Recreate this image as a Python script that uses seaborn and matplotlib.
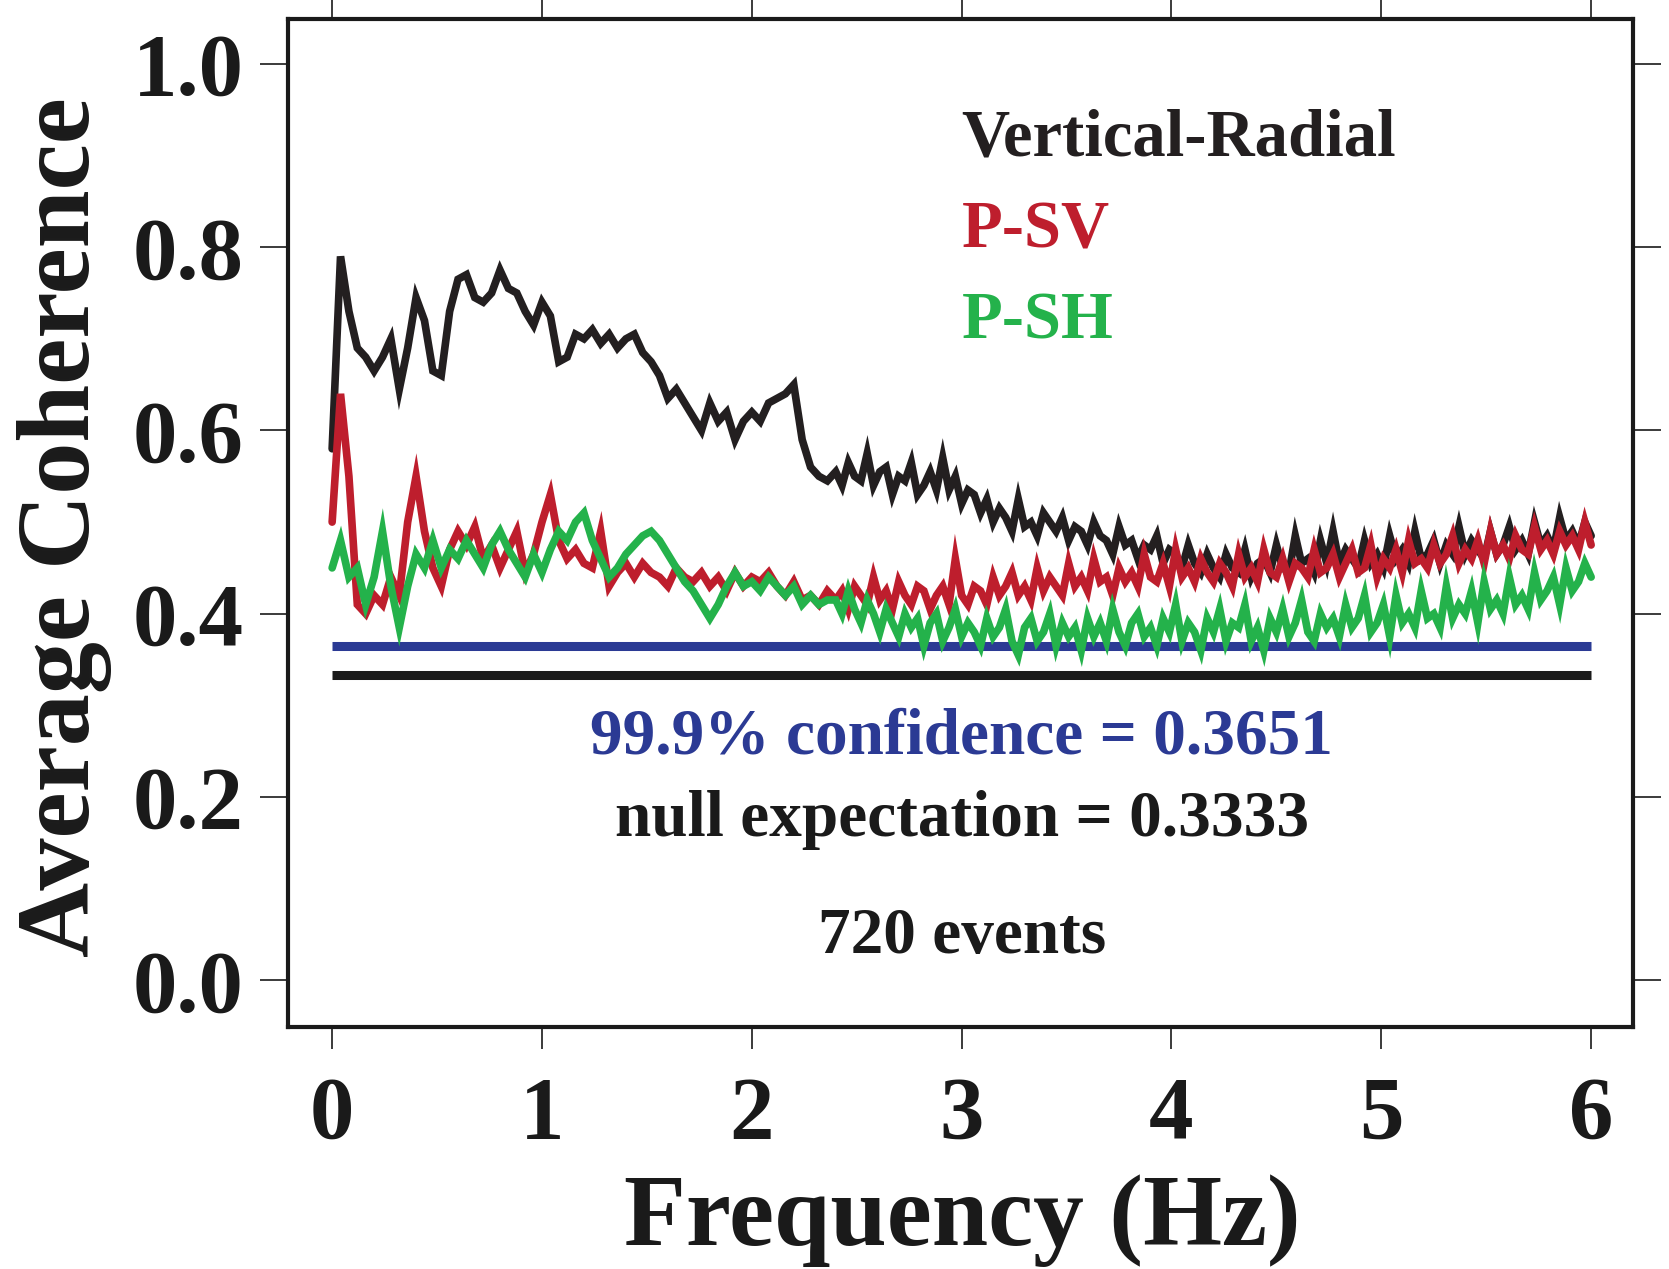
import numpy as np
import pandas as pd
import matplotlib
matplotlib.use("Agg")
import matplotlib.pyplot as plt
import seaborn as sns

# ---------------- data ----------------
# frequency grid: coarse below 2.4 Hz, finer above
freqs = np.round(np.concatenate([np.linspace(0.0, 2.36, 60),
                                 np.linspace(2.40, 6.00, 121)]), 2)

vertical_radial = [
    0.58, 0.79, 0.73, 0.69, 0.68, 0.665, 0.68, 0.70, 0.645, 0.69,
    0.745, 0.72, 0.665, 0.66, 0.73, 0.765, 0.77, 0.745, 0.74, 0.75,
    0.775, 0.755, 0.75, 0.73, 0.715, 0.74, 0.725, 0.675, 0.68, 0.705,
    0.70, 0.71, 0.695, 0.705, 0.69, 0.70, 0.705, 0.685, 0.675, 0.66,
    0.635, 0.645, 0.63, 0.615, 0.60, 0.63, 0.61, 0.62, 0.59, 0.61,
    0.62, 0.61, 0.63, 0.635, 0.64, 0.65, 0.59, 0.56, 0.55, 0.545,
    # 2.40 .. 6.00
    0.555, 0.54, 0.565, 0.55, 0.545, 0.575, 0.54, 0.555, 0.56, 0.53,
    0.55, 0.545, 0.565, 0.53, 0.54, 0.555, 0.535, 0.57, 0.535, 0.55,
    0.52, 0.535, 0.53, 0.51, 0.525, 0.50, 0.515, 0.505, 0.49, 0.525,
    0.495, 0.50, 0.485, 0.51, 0.50, 0.49, 0.505, 0.48, 0.495, 0.49,
    0.475, 0.50, 0.485, 0.48, 0.465, 0.495, 0.475, 0.48, 0.46, 0.475,
    0.47, 0.485, 0.455, 0.47, 0.465, 0.45, 0.475, 0.455, 0.445, 0.465,
    0.45, 0.44, 0.465, 0.45, 0.445, 0.47, 0.44, 0.455, 0.46, 0.445,
    0.475, 0.45, 0.445, 0.485, 0.455, 0.46, 0.445, 0.48, 0.455, 0.49,
    0.455, 0.47, 0.46, 0.45, 0.48, 0.455, 0.465, 0.45, 0.485, 0.46,
    0.47, 0.455, 0.49, 0.46, 0.465, 0.48, 0.455, 0.475, 0.465, 0.495,
    0.465, 0.48, 0.47, 0.46, 0.49, 0.465, 0.475, 0.495, 0.47, 0.48,
    0.465, 0.50, 0.475, 0.485, 0.47, 0.505, 0.48, 0.49, 0.475, 0.50,
    0.485,
]

p_sv = [
    0.50, 0.64, 0.55, 0.41, 0.40, 0.42, 0.41, 0.44, 0.42, 0.50,
    0.55, 0.49, 0.45, 0.43, 0.47, 0.49, 0.475, 0.495, 0.46, 0.475,
    0.45, 0.47, 0.49, 0.445, 0.465, 0.50, 0.53, 0.48, 0.46, 0.47,
    0.455, 0.45, 0.49, 0.43, 0.445, 0.455, 0.44, 0.455, 0.445, 0.44,
    0.43, 0.45, 0.44, 0.435, 0.445, 0.43, 0.44, 0.425, 0.445, 0.43,
    0.44, 0.435, 0.445, 0.43, 0.42, 0.435, 0.415, 0.42, 0.41, 0.425,
    # 2.40 .. 6.00
    0.415, 0.425, 0.405, 0.43, 0.42, 0.41, 0.44, 0.415, 0.425, 0.405,
    0.435, 0.42, 0.41, 0.43, 0.425, 0.405, 0.42, 0.43, 0.41, 0.46,
    0.42, 0.41, 0.43, 0.425, 0.41, 0.44, 0.42, 0.43, 0.445, 0.42,
    0.43, 0.415, 0.45, 0.425, 0.44, 0.43, 0.42, 0.455, 0.43, 0.44,
    0.425, 0.46, 0.435, 0.44, 0.42, 0.45, 0.435, 0.445, 0.43, 0.465,
    0.44, 0.435, 0.455, 0.43, 0.47, 0.44, 0.45, 0.435, 0.46, 0.445,
    0.435, 0.455, 0.445, 0.43, 0.465, 0.44, 0.45, 0.435, 0.47, 0.445,
    0.44, 0.46, 0.435, 0.455, 0.45, 0.44, 0.47, 0.445, 0.45, 0.465,
    0.44, 0.455, 0.47, 0.445, 0.45, 0.475, 0.44, 0.46, 0.45, 0.47,
    0.445, 0.48, 0.455, 0.46, 0.45, 0.475, 0.455, 0.465, 0.485, 0.455,
    0.47, 0.46, 0.48, 0.455, 0.49, 0.465, 0.475, 0.46, 0.485, 0.47,
    0.465, 0.495, 0.47, 0.48, 0.465, 0.49, 0.475, 0.485, 0.47, 0.50,
    0.475,
]

p_sh = [
    0.45, 0.48, 0.44, 0.45, 0.41, 0.44, 0.49, 0.43, 0.385, 0.43,
    0.465, 0.45, 0.48, 0.45, 0.47, 0.46, 0.48, 0.465, 0.45, 0.475,
    0.49, 0.47, 0.455, 0.44, 0.465, 0.445, 0.47, 0.49, 0.48, 0.50,
    0.51, 0.48, 0.46, 0.44, 0.45, 0.465, 0.475, 0.485, 0.49, 0.48,
    0.465, 0.45, 0.435, 0.425, 0.41, 0.395, 0.41, 0.43, 0.445, 0.43,
    0.435, 0.425, 0.44, 0.43, 0.42, 0.43, 0.41, 0.42, 0.41, 0.415,
    # 2.40 .. 6.00
    0.415, 0.40, 0.425, 0.405, 0.39, 0.415, 0.40, 0.38, 0.405, 0.39,
    0.375, 0.40, 0.385, 0.395, 0.365, 0.39, 0.40, 0.37, 0.385, 0.405,
    0.375, 0.39, 0.38, 0.365, 0.395, 0.375, 0.385, 0.405, 0.37, 0.355,
    0.385, 0.395, 0.37, 0.38, 0.40, 0.365, 0.39, 0.375, 0.385, 0.36,
    0.395, 0.375, 0.39, 0.37, 0.405, 0.38, 0.365, 0.39, 0.40, 0.375,
    0.385, 0.365, 0.395, 0.38, 0.41, 0.37, 0.39, 0.38, 0.36, 0.395,
    0.38, 0.405, 0.37, 0.39, 0.385, 0.41, 0.37, 0.385, 0.36, 0.395,
    0.38, 0.405, 0.375, 0.39, 0.415, 0.38, 0.37, 0.40, 0.385, 0.395,
    0.375, 0.41, 0.385, 0.395, 0.42, 0.38, 0.39, 0.41, 0.375, 0.42,
    0.39, 0.40, 0.385, 0.425, 0.395, 0.40, 0.385, 0.43, 0.395, 0.41,
    0.40, 0.425, 0.39, 0.435, 0.405, 0.415, 0.40, 0.44, 0.41, 0.42,
    0.405, 0.445, 0.415, 0.425, 0.44, 0.41, 0.45, 0.425, 0.435, 0.455,
    0.44,
]

series_names = ["Vertical-Radial", "P-SV", "P-SH"]
series_colors = ["#231f20", "#be1e2d", "#24b24b"]
confidence_level = 0.3651
null_expectation = 0.3333
n_events = 720
x_ticks = [0, 1, 2, 3, 4, 5, 6]
y_ticks = [0.0, 0.2, 0.4, 0.6, 0.8, 1.0]

df = pd.DataFrame({
    "Frequency": np.concatenate([freqs, freqs, freqs]),
    "Coherence": np.concatenate([vertical_radial, p_sv, p_sh]),
    "Series": np.repeat(series_names, len(freqs)),
})

# ---------------- style ----------------
sns.set_style("ticks")
plt.rcParams["font.family"] = ["Liberation Serif", "DejaVu Serif"]
plt.rcParams["font.weight"] = "bold"

fig = plt.figure(figsize=(16.69, 12.69), dpi=100)
ax = fig.add_axes([0.1726, 0.1907, 0.8059, 0.7943])

# threshold lines (below curves)
ax.hlines(confidence_level, 0, 6, color="#2b3a94", linewidth=6.5, zorder=1)
ax.hlines(null_expectation, 0, 6, color="#1a1a1a", linewidth=6.5, zorder=1)

sns.lineplot(data=df, x="Frequency", y="Coherence", hue="Series",
             hue_order=series_names, palette=series_colors,
             estimator=None, sort=False, linewidth=5.5, legend=False,
             ax=ax, zorder=2)
for ln in ax.get_lines():
    ln.set_linewidth(5.5)
    ln.set_solid_joinstyle("miter")

ax.set_xlim(-0.21, 6.20)
ax.set_ylim(-0.051, 1.049)
ax.set_xticks(x_ticks)
ax.set_xticklabels([str(t) for t in x_ticks])
ax.set_yticks(y_ticks)
ax.set_yticklabels([f"{t:.1f}" for t in y_ticks])

for sp in ax.spines.values():
    sp.set_visible(True)
    sp.set_linewidth(3.0)
    sp.set_color("#1a1a1a")

ax.tick_params(axis="both", which="major", direction="out", width=1.2,
               color="#1a1a1a", top=True, right=True,
               labeltop=False, labelright=False, labelsize=64,
               labelcolor="#1a1a1a")
ax.tick_params(axis="y", length=20, pad=12)
ax.tick_params(axis="x", length=16, pad=19)
for lab in ax.get_xticklabels() + ax.get_yticklabels():
    lab.set_fontweight("bold")

ax.set_xlabel("Frequency (Hz)", fontsize=73, fontweight="bold", color="#1a1a1a")
ax.set_ylabel("Average Coherence", fontsize=75, fontweight="bold", color="#1a1a1a")
ax.xaxis.set_label_coords(0.501, -0.216)
ax.xaxis.label.set_va("baseline")
ax.yaxis.set_label_coords(-0.1665, 0.496)
ax.yaxis.label.set_va("center")

# legend-like labels
label_y = [0.9, 0.8, 0.7]
for name, col, yy in zip(series_names, series_colors, label_y):
    ax.text(3.0, yy, name, color=col, fontsize=48, fontweight="bold",
            ha="left", va="baseline")

ax.text(3.0, 0.248, f"99.9% confidence = {confidence_level:.4f}", color="#2b3a94",
        fontsize=47, fontweight="bold", ha="center", va="baseline")
ax.text(3.0, 0.157, f"null expectation = {null_expectation:.4f}", color="#1a1a1a",
        fontsize=47, fontweight="bold", ha="center", va="baseline")
ax.text(3.0, 0.03, f"{n_events} events", color="#1a1a1a",
        fontsize=47, fontweight="bold", ha="center", va="baseline")

fig.savefig("out.png", dpi=100)
